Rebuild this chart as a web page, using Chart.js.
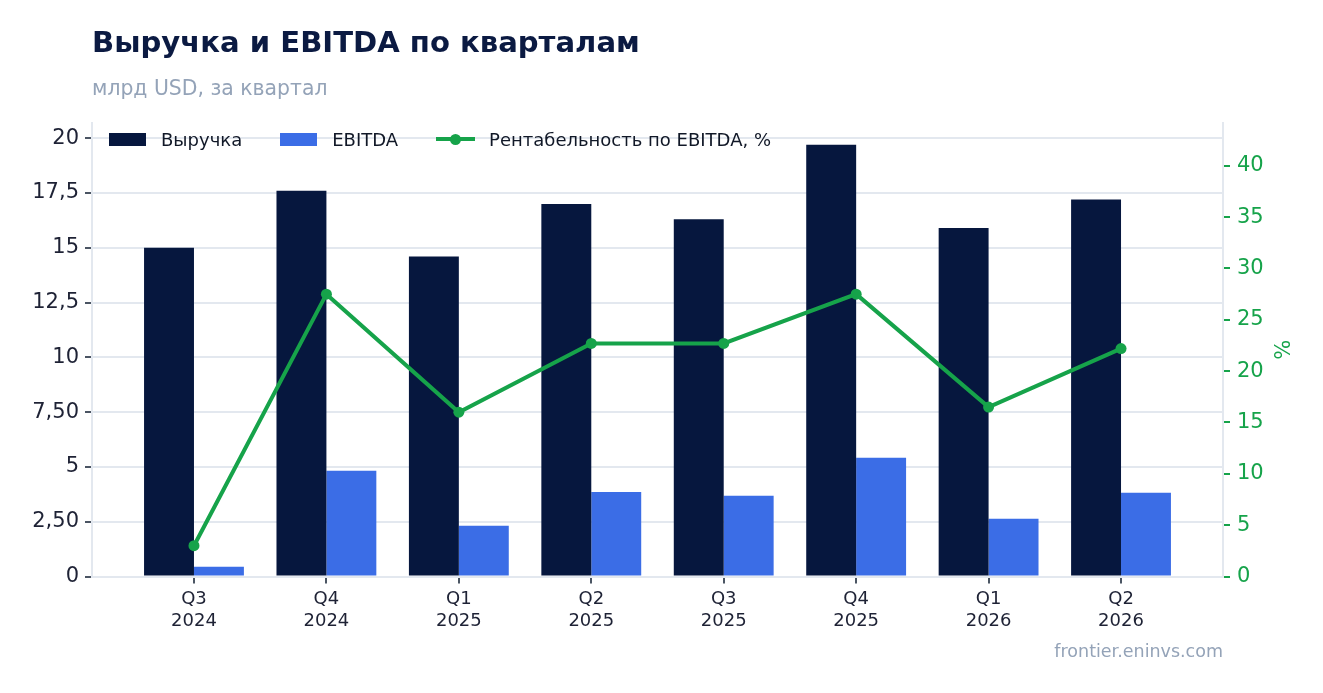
<!DOCTYPE html>
<html><head><meta charset="utf-8">
<script src="https://cdn.jsdelivr.net/npm/chart.js@4.4.1/dist/chart.umd.min.js"></script>
<style>
html,body{margin:0;padding:0;background:#fff;width:1323px;height:693px;overflow:hidden;font-family:"DejaVu Sans",sans-serif;}
#wrap{position:absolute;left:0;top:0;width:1323px;height:693px;}
#title{position:absolute;left:92px;top:25px;font-size:29.1px;font-weight:bold;color:#0b1a42;white-space:nowrap;}
#subtitle{position:absolute;left:92px;top:76px;font-size:20.4px;color:#94a3b8;white-space:nowrap;}
#footer{position:absolute;right:100px;top:641px;font-size:17.5px;color:#94a3b8;white-space:nowrap;}
#legend{position:absolute;left:109px;top:128px;height:22px;display:flex;align-items:center;font-size:18px;color:#111827;white-space:nowrap;}
.li{display:flex;align-items:center;margin-right:38px;}
.box{width:37px;height:13px;margin-right:15px;}
.ln{position:relative;width:39px;height:4px;margin-right:14px;}
.ln span{position:absolute;left:14px;top:-3.5px;width:11px;height:11px;border-radius:50%;}
</style></head>
<body>
<div id="wrap"><canvas id="c" width="1323" height="693"></canvas></div>
<div id="title">Выручка и EBITDA по кварталам</div>
<div id="subtitle">млрд USD, за квартал</div>
<div id="legend"></div>
<div id="footer">frontier.eninvs.com</div>
<script>
const categories = [["Q3","2024"],["Q4","2024"],["Q1","2025"],["Q2","2025"],["Q3","2025"],["Q4","2025"],["Q1","2026"],["Q2","2026"]];
const revenue = [15.0, 17.6, 14.6, 17.0, 16.3, 19.7, 15.9, 17.2];
const ebitda = [0.45, 4.82, 2.31, 3.86, 3.68, 5.42, 2.63, 3.82];
const margin = [3.0, 27.5, 16.0, 22.7, 22.7, 27.5, 16.5, 22.2];
const leftTickValues = [0, 2.5, 5, 7.5, 10, 12.5, 15, 17.5, 20];
const leftTickLabels = ["0", "2,50", "5", "7,50", "10", "12,5", "15", "17,5", "20"];
const rightTickValues = [0, 5, 10, 15, 20, 25, 30, 35, 40];
const seriesNames = ["Выручка", "EBITDA", "Рентабельность по EBITDA, %"];

const NAVY = "#06173e", BLUE = "#3b6de6", GREEN = "#16a34a", GRID = "#e3e8ef", DARK = "#1e2235";

// HTML legend
const lg = document.getElementById('legend');
[[seriesNames[0], NAVY, 'box'], [seriesNames[1], BLUE, 'box'], [seriesNames[2], GREEN, 'line']].forEach(([t, c, k]) => {
  const d = document.createElement('div'); d.className = 'li';
  if (k === 'box') { const b = document.createElement('div'); b.className = 'box'; b.style.background = c; d.appendChild(b); }
  else { const l = document.createElement('div'); l.className = 'ln'; l.style.background = c; const s = document.createElement('span'); s.style.background = c; l.appendChild(s); d.appendChild(l); }
  const s = document.createElement('span'); s.textContent = t; d.appendChild(s);
  lg.appendChild(d);
});

const pts = arr => arr.map((v, i) => ({ x: i, y: v }));

Chart.defaults.font.family = '"DejaVu Sans", sans-serif';
new Chart(document.getElementById('c'), {
  type: 'bar',
  data: {
    datasets: [
      { type: 'line', label: seriesNames[2], data: pts(margin), yAxisID: 'y1', borderColor: GREEN, backgroundColor: GREEN, borderWidth: 4, pointRadius: 5.5, pointBackgroundColor: GREEN, pointBorderWidth: 0, tension: 0, order: 0 },
      { label: seriesNames[0], data: pts(revenue), yAxisID: 'y', backgroundColor: NAVY, categoryPercentage: 0.754, barPercentage: 1, order: 1 },
      { label: seriesNames[1], data: pts(ebitda), yAxisID: 'y', backgroundColor: BLUE, categoryPercentage: 0.754, barPercentage: 1, order: 1 }
    ]
  },
  options: {
    responsive: false, animation: false,
    layout: { padding: { top: 123, left: 0, right: 31, bottom: 0 } },
    plugins: { legend: { display: false }, tooltip: { enabled: false } },
    scales: {
      x: {
        type: 'linear', min: -0.77, max: 7.77, offset: false,
        grid: { drawOnChartArea: false, offset: false, tickColor: '#4b5563', tickLength: 7, lineWidth: 2 },
        border: { color: GRID, width: 2 },
        ticks: { color: DARK, font: { size: 18 }, padding: 5, maxRotation: 0, autoSkip: false,
          callback: v => categories[v] },
        afterBuildTicks: s => { s.ticks = categories.map((c, i) => ({ value: i })); },
        afterFit: s => { s.height = 116.5; }
      },
      y: {
        position: 'left', min: 0, max: 20.69,
        grid: { color: GRID, lineWidth: 2, tickColor: '#4b5563', tickLength: 7 },
        border: { color: GRID, width: 2 },
        ticks: { color: DARK, font: { size: 21 }, padding: 6,
          callback: v => { const i = leftTickValues.indexOf(v); return i >= 0 ? leftTickLabels[i] : ''; } },
        afterBuildTicks: s => { s.ticks = leftTickValues.map(v => ({ value: v })); },
        afterFit: s => { s.width = 92; }
      },
      y1: {
        position: 'right', min: 0, max: 44.17,
        grid: { drawOnChartArea: false, tickColor: GREEN, tickLength: 7, lineWidth: 2 },
        border: { color: GRID, width: 2 },
        ticks: { color: GREEN, font: { size: 21 }, padding: 7 },
        afterBuildTicks: s => { s.ticks = rightTickValues.map(v => ({ value: v })); },
        title: { display: true, text: '%', color: GREEN, font: { size: 21 }, padding: { top: 0, bottom: 0 } },
        afterFit: s => { s.width = 69; }
      }
    }
  }
});
</script>
</body></html>
